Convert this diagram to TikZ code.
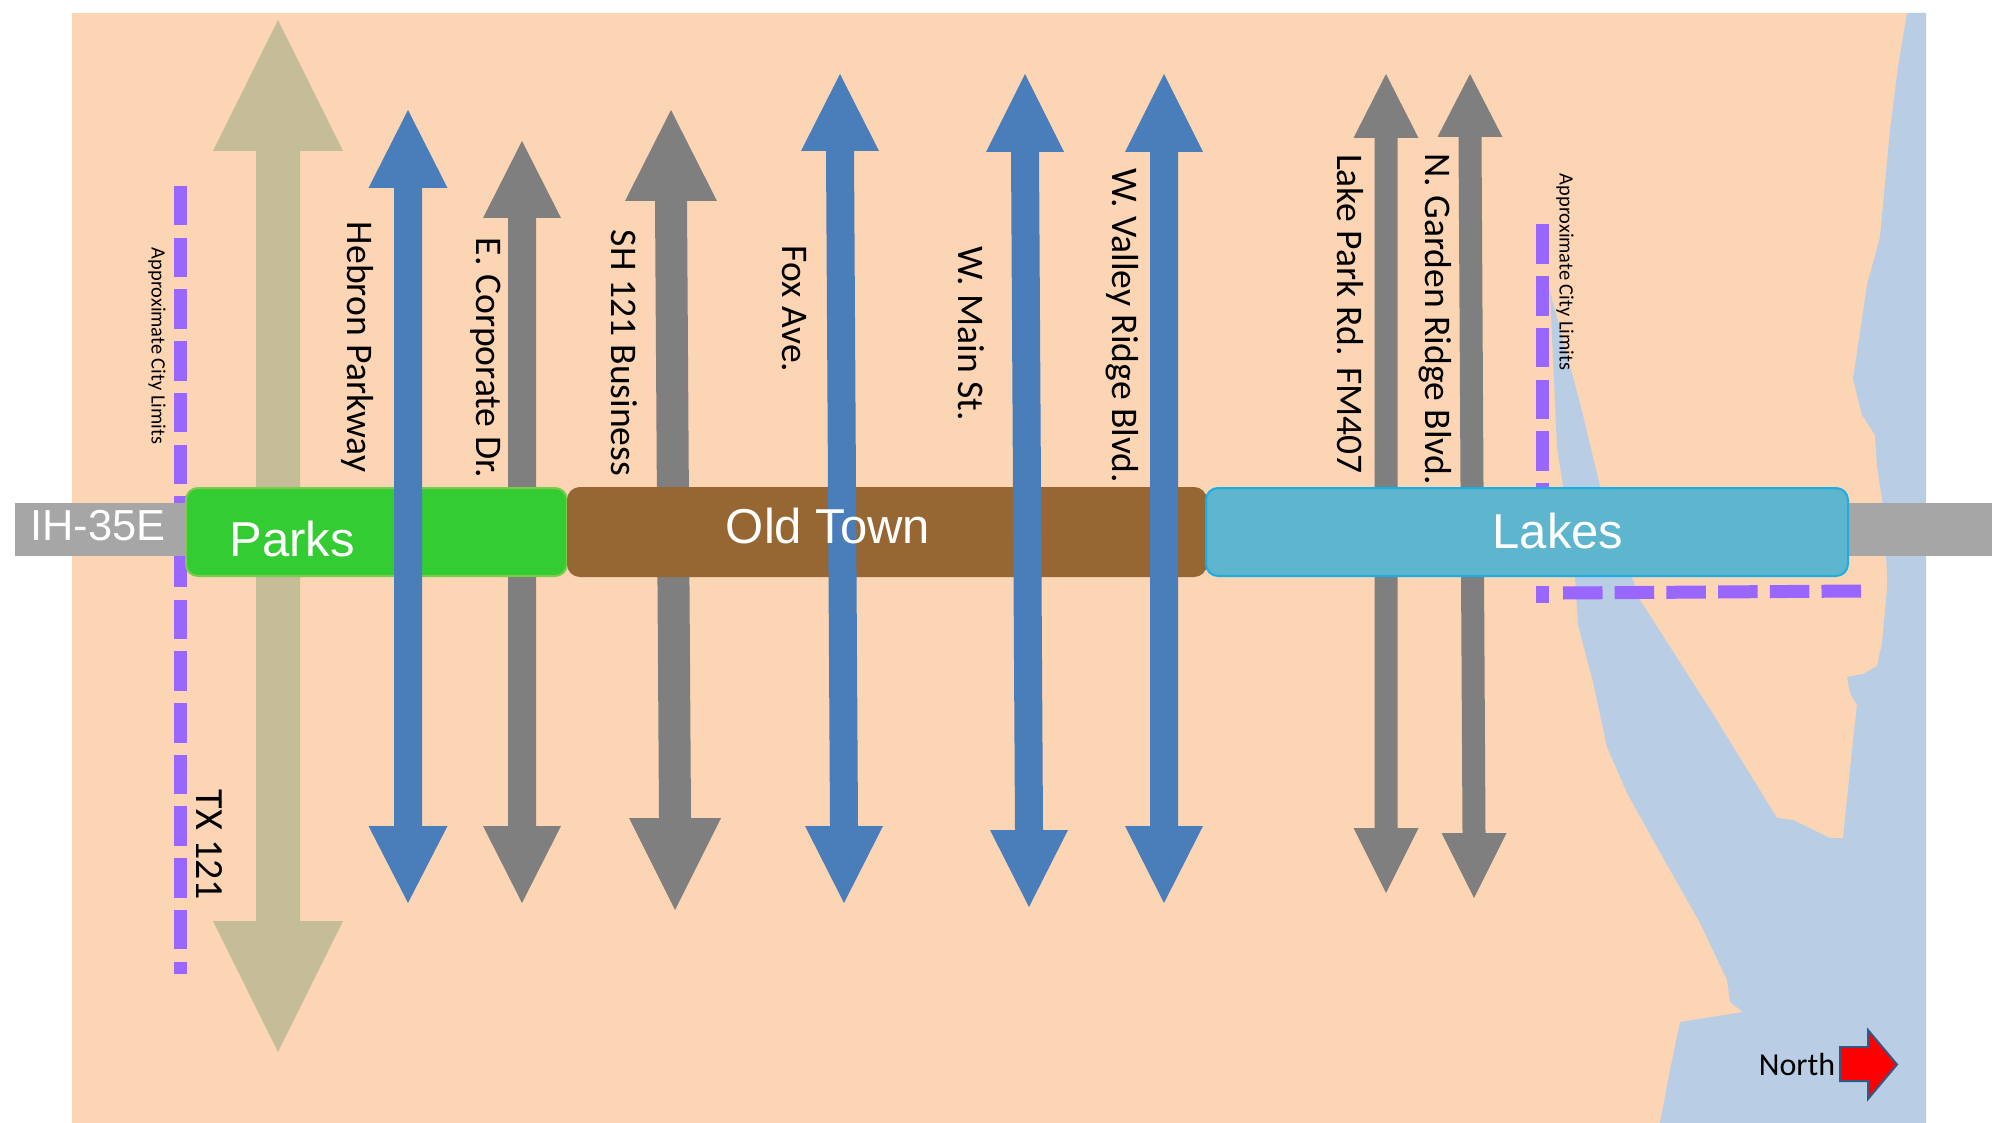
\documentclass[tikz,border=0pt]{standalone}
\usepackage{fontspec}
\setmainfont{Carlito}
\newfontfamily\barfont{Liberation Sans}
\definecolor{landcol}{HTML}{FCD5B5}
\definecolor{watercol}{HTML}{B9CDE5}
\definecolor{limitcol}{HTML}{9966FF}
\definecolor{tancol}{HTML}{C4BD97}
\definecolor{greycol}{HTML}{7F7F7F}
\definecolor{bluecol}{HTML}{4A7EBB}
\definecolor{ihcol}{HTML}{A6A6A6}
\definecolor{parkscol}{HTML}{33CC33}
\definecolor{parksedge}{HTML}{7ACB4E}
\definecolor{towncol}{HTML}{966633}
\definecolor{lakescol}{HTML}{5EB5CE}
\definecolor{lakesedge}{HTML}{1CADE4}
\tikzset{
  limitline/.style={limitcol,line width=6.5pt,dash pattern=on 19.75pt off 6.1pt},
  district/.style={rounded corners=6pt,line width=1pt},
  barlabel/.style={text=white,font=\barfont\fontsize{24.5}{24.5}\selectfont,inner sep=0pt},
  roadlabel/.style={rotate=-90,inner sep=0pt,font=\fontsize{18.8}{18.8}\selectfont},
  limitlabel/.style={rotate=-90,inner sep=0pt,font=\fontsize{10.2}{10.2}\selectfont},
}
\begin{document}
\begin{tikzpicture}[x=0.5pt,y=-0.5pt]
\useasboundingbox (0,0) rectangle (1992,1123);

% land and water
\fill[landcol] (72,13) rectangle (1926,1123);
\fill[watercol] (1907,13) -- (1898,67) -- (1890,130) -- (1880,237) -- (1867,285) -- (1853,379)
  -- (1862,415) -- (1875,435) -- (1877,466) -- (1883,506) -- (1887,573) -- (1887,589)
  -- (1882,643) -- (1877,666) -- (1863,674) -- (1847,677) -- (1850,693) -- (1857,705)
  -- (1853,740) -- (1843,838) -- (1830,838) -- (1793,820) -- (1777,818) -- (1713,714)
  -- (1640,600) -- (1600,486) -- (1580,403) -- (1550,292) -- (1557,447) -- (1563,486)
  -- (1575,578) -- (1578,625) -- (1593,682) -- (1607,747) -- (1627,793) -- (1657,847)
  -- (1700,923) -- (1727,980) -- (1730,1002) -- (1743,1012) -- (1680,1022) -- (1670,1070)
  -- (1660,1123) -- (1926,1123) -- (1926,13) -- cycle;

% city limits
\draw[limitline] (180.5,186) -- (180.5,974);
\draw[limitline] (1542,224.5) -- (1542,603);
\draw[limitline] (1563,593) -- (1861,591);

% roads under the districts
\foreach \xt/\xb/\ytip/\ybase/\ylow/\yend/\hw/\sw/\col in {
  278/278/20/151/921/1052/65/22/tancol,
  522/522/141/218/826/903/39/14/greycol,
  671/675/110/201/818/910/46/16/greycol,
  1386/1386/74/138/828/893/32.5/11.5/greycol,
  1470/1474/74/137/833/898/32.5/11.5/greycol} {
  \fill[\col] (\xt,\ytip) -- ({\xt+\hw},\ybase) -- ({\xt+\sw},\ybase) -- ({\xb+\sw},\ylow)
    -- ({\xb+\hw},\ylow) -- (\xb,\yend) -- ({\xb-\hw},\ylow) -- ({\xb-\sw},\ylow)
    -- ({\xt-\sw},\ybase) -- ({\xt-\hw},\ybase) -- cycle;
}

% IH-35E
\fill[ihcol] (15,503) rectangle (190,556);
\fill[ihcol] (1845,503) rectangle (1992,556);

% districts
\draw[district,fill=parkscol,draw=parksedge] (186,488) rectangle (567,576);
\draw[district,fill=towncol,draw=towncol] (568,488) rectangle (1206,576);
\draw[district,fill=lakescol,draw=lakesedge] (1206,488) rectangle (1848,576);

% roads over the districts
\foreach \xt/\xb/\ytip/\ybase/\ylow/\yend/\hw/\sw/\col in {
  408/408/110/188/826/903/39.5/14/bluecol,
  840/844/74/151/826/903/39/14/bluecol,
  1025/1029/74/152/830/907/39/14/bluecol,
  1164/1164/74/152/826/903/39/14/bluecol} {
  \fill[\col] (\xt,\ytip) -- ({\xt+\hw},\ybase) -- ({\xt+\sw},\ybase) -- ({\xb+\sw},\ylow)
    -- ({\xb+\hw},\ylow) -- (\xb,\yend) -- ({\xb-\hw},\ylow) -- ({\xb-\sw},\ylow)
    -- ({\xt-\sw},\ybase) -- ({\xt-\hw},\ybase) -- cycle;
}

% north arrow
\draw[fill=red,draw=bluecol!70!black,line width=1pt] (1840,1047) -- (1868,1047) -- (1868,1030)
  -- (1897,1064.5) -- (1868,1099) -- (1868,1081) -- (1840,1081) -- cycle;

% labels
\node[barlabel] (parks) at (292,539) {Parks};
\node[barlabel] (oldtown) at (828,526) {Old Town};
\node[barlabel] (lakes) at (1558,531) {Lakes};
\node[barlabel,font=\barfont\fontsize{21.7}{21.7}\selectfont] (ih35e) at (98,526) {IH-35E};
\node[roadlabel] (hebron) at (358,347) {Hebron Parkway};
\node[roadlabel] (corporate) at (486,358) {E. Corporate Dr.};
\node[roadlabel] (sh121) at (624,353) {SH 121 Business};
\node[roadlabel] (fox) at (794,309) {Fox Ave.};
\node[roadlabel] (mainst) at (971,334) {W. Main St.};
\node[roadlabel] (valley) at (1122,326) {W. Valley Ridge Blvd.};
\node[roadlabel] (lakepark) at (1350,314) {Lake Park Rd. FM407};
\node[roadlabel] (garden) at (1435,319) {N. Garden Ridge Blvd.};
\node[roadlabel,font=\fontsize{20}{20}\selectfont] (tx121) at (209,845) {TX 121};
\node[limitlabel] (limitw) at (157,346) {Approximate City Limits};
\node[limitlabel] (limite) at (1565,272) {Approximate City Limits};
\node[inner sep=0pt,font=\fontsize{16}{16}\selectfont] (north) at (1797,1064) {North};
\end{tikzpicture}
\end{document}
